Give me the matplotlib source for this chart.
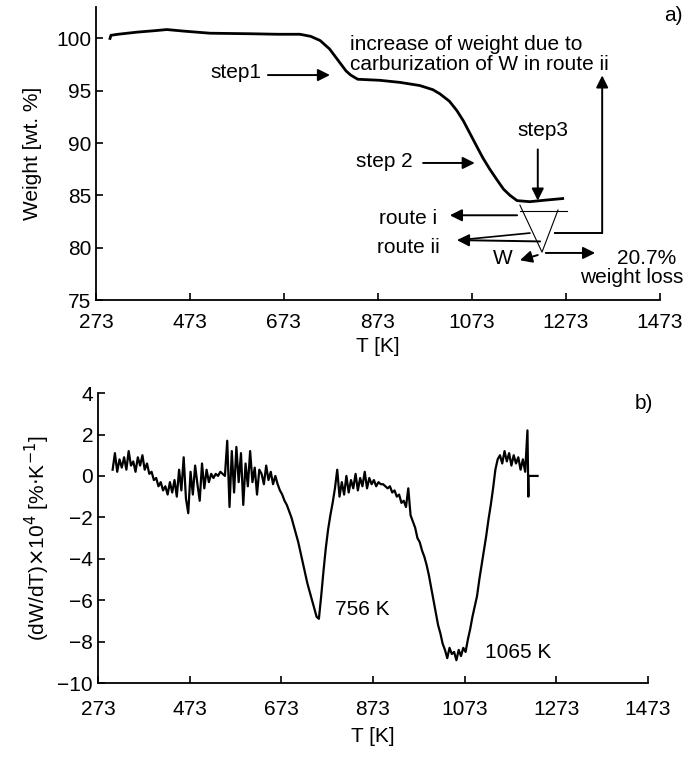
import numpy as np
import matplotlib
matplotlib.use("Agg")
import matplotlib.pyplot as plt

plt.rcParams['font.family'] = ['Liberation Sans', 'DejaVu Sans']
plt.rcParams['font.size'] = 15

# a) TG curve
tg_T = [303, 305, 320, 360, 400, 424, 460, 516, 600, 660, 707, 730, 750, 770,
        790, 805, 815, 830, 877, 920, 962, 990, 1005, 1025, 1041, 1055, 1069,
        1083, 1096, 1111, 1126, 1140, 1154, 1169, 1196, 1230, 1266]
tg_W = [100.0, 100.3, 100.4, 100.6, 100.75, 100.85, 100.7, 100.5, 100.45,
        100.4, 100.4, 100.2, 99.8, 99.0, 97.8, 96.9, 96.5, 96.1, 96.0, 95.8,
        95.5, 95.1, 94.7, 94.0, 93.1, 92.1, 90.9, 89.7, 88.6, 87.5, 86.5,
        85.6, 85.0, 84.5, 84.4, 84.55, 84.7]

# b) DTG curve, sampled every 5 K from 305 K to 1210 K
dtg_T = np.arange(305, 1215, 5)
dtg_V = [
    0.3, 1.1, 0.2, 0.8, 0.4, 0.9, 0.3, 1.2, 0.5, 0.7, 0.2, 0.9, 0.5, 1.0,
    0.3, 0.6, 0.1, 0.2, -0.2, -0.1, -0.5, -0.3, -0.7, -0.5,
    -0.9, -0.3, -0.8, -0.2, -1.0, 0.3, -0.7, 0.9, -1.1, -1.8, 0.2, -0.9,
    0.5, -0.4, -1.2, 0.6, -0.6, 0.3, -0.3, 0.1, -0.1,
    0.1, 0.0, 0.2, 0.1, 0.0, 1.7, -1.5, 1.2, -0.8, 1.4, -0.3, 1.1, -1.4,
    0.6, -0.5, 1.2, -0.3, 0.4, -0.9, 0.3, 0.1, -0.4, 0.5, -0.2, 0.2, -0.4, 0.0,
    -0.4, -0.7, -0.9, -1.2, -1.4, -1.7, -2.0, -2.4, -2.8, -3.2, -3.7, -4.2,
    -4.7, -5.2, -5.6, -6.0, -6.4, -6.8, -6.9, -5.8,
    -4.6, -3.5, -2.6, -1.9, -1.3, -0.6, 0.3, -1.0,
    -0.3, -0.9, 0.0, -0.8, -0.2, -0.6, 0.1, -0.7, -0.1, -0.5, 0.2, -0.6,
    -0.1, -0.4, -0.2, -0.5, -0.3, -0.4, -0.4, -0.5,
    -0.6, -0.5, -0.8, -0.7, -1.0, -0.9, -1.3, -1.2, -1.5, -0.6, -1.9, -2.2,
    -2.5, -3.0, -3.2, -3.6, -3.9, -4.3, -4.8, -5.4,
    -6.0, -6.6, -7.2, -7.6, -8.1, -8.4, -8.8, -8.3, -8.6, -8.5, -8.9, -8.4,
    -8.7, -8.3, -8.5,
    -7.9, -7.4, -6.8, -6.3, -5.8, -5.0, -4.3, -3.6, -2.9, -2.1, -1.4, -0.6, 0.3,
    0.8, 1.0, 0.6, 1.2, 0.7, 1.1, 0.5, 1.0, 0.6, 0.9, 0.3, 0.8, 0.2, 2.2,
]
tail_T = [1212, 1212, 1232]
tail_V = [-1.0, 0.0, 0.0]

xticks = [273, 473, 673, 873, 1073, 1273, 1473]

fig = plt.figure(figsize=(6.85, 7.59), dpi=100)
ax1 = fig.add_axes([0.140, 0.6047, 0.8235, 0.386])
ax2 = fig.add_axes([0.143, 0.1001, 0.803, 0.382])

for ax in (ax1, ax2):
    for s in ('top', 'right'):
        ax.spines[s].set_visible(False)
    for s in ('left', 'bottom'):
        ax.spines[s].set_linewidth(1.3)
    ax.tick_params(direction='in', length=5, width=1.2, labelsize=15)
    ax.set_xlim(273, 1473)
    ax.set_xticks(xticks)

# ---- panel a
ax1.plot(tg_T, tg_W, color='k', lw=2.0)
ax1.set_ylim(75, 103)
ax1.set_yticks([75, 80, 85, 90, 95, 100])
ax1.set_ylabel('Weight [wt. %]', fontsize=15, labelpad=10)
ax1.set_xlabel('T [K]', fontsize=15, labelpad=4)
ax1.tick_params(axis='x', pad=9)

arrow = dict(arrowstyle='-|>', color='k', lw=1.4, mutation_scale=18,
             shrinkA=0, shrinkB=0)

ax1.text(813, 98.45, 'increase of weight due to\ncarburization of W in route ii',
         ha='left', va='center', fontsize=15, linespacing=1.05)
ax1.text(626, 96.7, 'step1', ha='right', va='center', fontsize=15)
ax1.annotate('', xy=(771, 96.5), xytext=(639, 96.5), arrowprops=arrow)
ax1.text(947, 88.2, 'step 2', ha='right', va='center', fontsize=15)
ax1.annotate('', xy=(1079, 88.1), xytext=(969, 88.1), arrowprops=arrow)
ax1.text(1224, 91.2, 'step3', ha='center', va='center', fontsize=15)
ax1.annotate('', xy=(1213, 84.5), xytext=(1213, 89.4), arrowprops=arrow)

# triangle sketch
ax1.plot([1175, 1222, 1256], [84.07, 79.58, 83.6], color='k', lw=0.8)
ax1.plot([1175, 1275], [83.52, 83.52], color='k', lw=0.8)

ax1.text(999, 82.8, 'route i', ha='right', va='center', fontsize=15)
ax1.annotate('', xy=(1026, 83.1), xytext=(1169, 83.1), arrowprops=arrow)
ax1.text(1005, 80.06, 'route ii', ha='right', va='center', fontsize=15)
ax1.plot([1196, 1060], [81.4, 80.8], color='k', lw=1.2)
ax1.annotate('', xy=(1041, 80.73), xytext=(1218, 80.6), arrowprops=arrow)
ax1.text(1139, 79.0, 'W', ha='center', va='center', fontsize=15)
ax1.annotate('', xy=(1175, 78.8), xytext=(1213, 79.3), arrowprops=arrow)
ax1.annotate('', xy=(1335, 79.5), xytext=(1230, 79.5), arrowprops=arrow)
ax1.text(1445, 79.0, '20.7%', ha='center', va='center', fontsize=15)
ax1.text(1413, 77.2, 'weight loss', ha='center', va='center', fontsize=15)
ax1.plot([1250, 1350], [81.4, 81.4], color='k', lw=1.4)
ax1.annotate('', xy=(1350, 96.47), xytext=(1350, 81.4), arrowprops=arrow)

fig.text(0.996, 0.980, 'a)', ha='right', va='center', fontsize=15)

# ---- panel b
ax2.plot(list(dtg_T) + tail_T, dtg_V + tail_V, color='k', lw=1.6)
ax2.set_ylim(-10, 4)
ax2.set_yticks(range(-10, 5, 2))
ax2.set_ylabel(r'(dW/dT)$\times$10$^{4}$ [%$\cdot$K$^{-1}$]', fontsize=15,
               labelpad=4)
ax2.set_xlabel('T [K]', fontsize=15, labelpad=6)
ax2.tick_params(axis='x', pad=12)
ax2.text(790, -6.47, '756 K', ha='left', va='center', fontsize=15)
ax2.text(1118, -8.55, '1065 K', ha='left', va='center', fontsize=15)
fig.text(0.953, 0.469, 'b)', ha='right', va='center', fontsize=15)

fig.savefig('out.png', dpi=100)
